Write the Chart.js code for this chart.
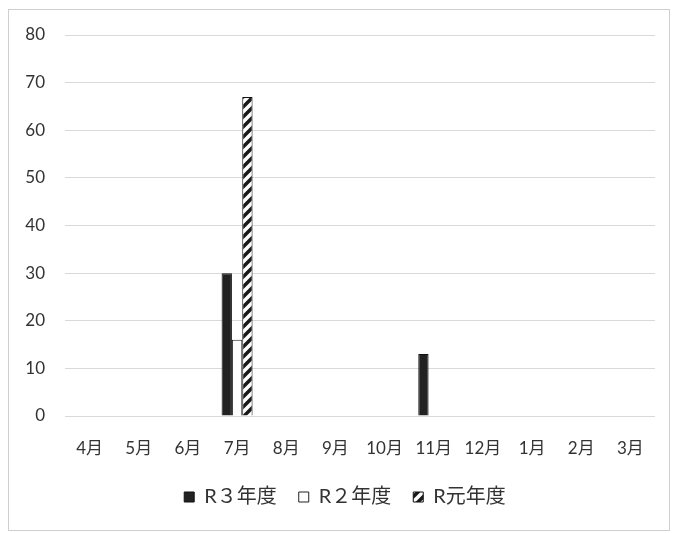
<!DOCTYPE html>
<html>
<head>
<meta charset="utf-8">
<script src="https://cdn.jsdelivr.net/npm/chart.js@4/dist/chart.umd.min.js"></script>
<style>
  html, body { margin: 0; padding: 0; background: #fff; }
  #wrap { position: relative; width: 675px; height: 533px; }
  #frame { position: absolute; left: 8px; top: 9px; width: 660px; height: 520px; border: 1px solid #cfcfcf; pointer-events: none; }
  canvas { position: absolute; left: 0; top: 0; }
</style>
</head>
<body>
<div id="wrap">
  <canvas id="monthly" width="675" height="533"></canvas>
  <div id="frame"></div>
</div>
<script>
const months = ['4月', '5月', '6月', '7月', '8月', '9月', '10月', '11月', '12月', '1月', '2月', '3月'];
const seriesNames = ['R３年度', 'R２年度', 'R元年度'];
const r3 = [null, null, null, 30, null, null, null, 13, null, null, null, null];
const r2 = [null, null, null, 16, null, null, null, null, null, null, null, null];
const r1 = [null, null, null, 67, null, null, null, null, null, null, null, null];
const yTicks = [0, 10, 20, 30, 40, 50, 60, 70, 80];

// diagonal stripes for the R元 series
function stripes(){
  const c = document.createElement('canvas');
  c.width = 10; c.height = 10;
  const g = c.getContext('2d');
  g.fillStyle = '#ffffff';
  g.fillRect(0, 0, 10, 10);
  g.strokeStyle = '#1a1a1a';
  g.lineWidth = 3.5;
  g.beginPath();
  g.moveTo(-2, 12); g.lineTo(12, -2);
  g.moveTo(-7, 7); g.lineTo(7, -7);
  g.moveTo(3, 17); g.lineTo(17, 3);
  g.stroke();
  return g.createPattern(c, 'repeat');
}

// center the legend under the plot area instead of the whole canvas
const legendUnderPlot = {
  id: 'legendUnderPlot',
  afterLayout(chart){
    const lg = chart.legend;
    if (!lg) return;
    const shift = (chart.chartArea.left + chart.chartArea.right) / 2 - (lg.left + lg.right) / 2 - 15;
    lg.left += shift;
    lg.right += shift;
  },
};

const font = "Lato, 'Noto Sans CJK JP', sans-serif";
const ctx = document.getElementById('monthly');

new Chart(ctx, {
  type: 'bar',
  data: {
    labels: months,
    datasets: [
      { label: seriesNames[0], data: r3, backgroundColor: '#222222', borderColor: '#111111', borderWidth: 1 },
      { label: seriesNames[1], data: r2, backgroundColor: '#ffffff', borderColor: '#222222', borderWidth: 1 },
      { label: seriesNames[2], data: r1, backgroundColor: stripes(), borderColor: '#111111', borderWidth: 1 },
    ],
  },
  options: {
    responsive: false,
    animation: false,
    layout: { padding: { top: 35, right: 20, bottom: 16, left: 0 } },
    datasets: { bar: { barPercentage: 1, categoryPercentage: 0.63 } },
    plugins: {
      tooltip: { enabled: false },
      legend: {
        position: 'bottom',
        labels: {
          color: '#333333',
          font: { family: font, size: 20 },
          boxWidth: 10,
          boxHeight: 10,
          padding: 22,
          useBorderRadius: false,
        },
      },
    },
    scales: {
      x: {
        grid: { display: false },
        border: { display: false },
        ticks: { color: '#333333', font: { family: font, size: 17 }, padding: 14, maxRotation: 0, autoSkip: false },
        afterFit: function(s){ s.height = 49; },
      },
      y: {
        min: 0,
        max: 80,
        afterBuildTicks: function(s){ s.ticks = yTicks.map(v => ({ value: v })); },
        grid: { color: '#d9d9d9', drawTicks: false },
        border: { display: false },
        ticks: { color: '#333333', font: { family: font, size: 17 }, padding: 20 },
        afterFit: function(s){ s.width = 65; },
      },
    },
  },
  plugins: [legendUnderPlot],
});
</script>
</body>
</html>
